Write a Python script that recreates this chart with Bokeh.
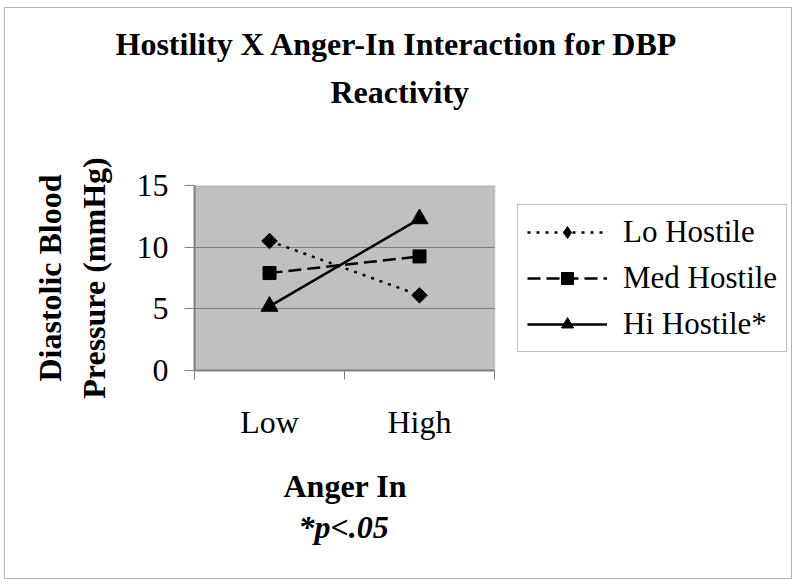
import numpy as np
from bokeh.plotting import figure
from bokeh.models import (Range1d, FixedTicker, Legend, LegendItem, Title, BoxAnnotation)
from bokeh.embed import file_html
from bokeh.resources import INLINE

# ---- data ----
categories = ["Low", "High"]
series_names = ["Lo Hostile", "Med Hostile", "Hi Hostile*"]
lo_hostile = [10.5, 6.1]
med_hostile = [7.9, 9.25]
hi_hostile = [5.2, 12.3]
y_ticks = [0, 5, 10, 15]

title_lines = ["Hostility X Anger-In Interaction for DBP", "Reactivity"]
x_title = "Anger In"
note = "*p<.05"
y_title = "Diastolic Blood\nPressure (mmHg)"

SERIF = "Liberation Serif"
GRAY = "#808080"

# layout (pixels, canvas coordinates)
W, H = 788, 572
LEFT, TOP, BOTTOM = 189, 177, 362
PLOT_W = 300                     # width of the grey plot area
n = len(categories)
x_end = n * (W - LEFT) / PLOT_W  # frame extends to the right to hold the legend

p = figure(width=W, height=H, output_backend="svg", toolbar_location=None,
           x_range=Range1d(0, x_end), y_range=Range1d(0, max(y_ticks)),
           min_border_left=LEFT, min_border_right=0, min_border_top=TOP,
           min_border_bottom=H - BOTTOM, title=None)
p.styles = {"border": "1px solid #B4B4B4", "margin-left": "4px", "margin-top": "7px"}
p.background_fill_color = "white"
p.border_fill_color = "white"
p.outline_line_color = None

# grey plot area
area = BoxAnnotation(left=0, right=n, bottom=0, top=max(y_ticks), level="image",
                     fill_color="#C0C0C0", fill_alpha=1,
                     line_color=GRAY, line_width=2)
p.add_layout(area)

xs = [i + 0.5 for i in range(n)]

# axes
xa = p.xaxis[0]
xa.bounds = (0, n)
xa.ticker = FixedTicker(ticks=xs, minor_ticks=list(range(n + 1)))
xa.major_label_overrides = {x: c for x, c in zip(xs, categories)}
xa.major_tick_out = 0
xa.major_tick_in = 0
xa.minor_tick_out = 9
xa.minor_tick_in = 0
xa.minor_tick_line_color = GRAY
xa.axis_line_color = GRAY
xa.axis_line_width = 2
xa.major_label_text_font = SERIF
xa.major_label_text_font_size = "32px"
xa.major_label_text_color = "black"
xa.major_label_standoff = 24

ya = p.yaxis[0]
ya.bounds = (0, max(y_ticks))
ya.ticker = FixedTicker(ticks=y_ticks)
ya.minor_tick_line_color = None
ya.major_tick_out = 10
ya.major_tick_in = 0
ya.major_tick_line_color = GRAY
ya.axis_line_color = GRAY
ya.axis_line_width = 2
ya.major_label_text_font = SERIF
ya.major_label_text_font_size = "32px"
ya.major_label_text_color = "black"
ya.major_label_standoff = 16
ya.axis_label = y_title
ya.axis_label_text_font = SERIF
ya.axis_label_text_font_style = "bold"
ya.axis_label_text_font_size = "32px"
ya.axis_label_text_color = "black"
ya.axis_label_standoff = 22

p.xgrid.grid_line_color = None
p.ygrid.grid_line_color = GRAY
p.ygrid.grid_line_width = 1
p.ygrid.ticker = FixedTicker(ticks=y_ticks[1:-1])
p.ygrid.cross_bounds = (0, n)
p.ygrid.level = "underlay"

# series
styles = [
    (lo_hostile, "3 6", "square", 11, np.pi / 4),
    (med_hostile, "13 6", "square", 13, 0),
    (hi_hostile, "solid", "triangle", 17, 0),
]
items = []
for name, (vals, dash, marker, size, ang) in zip(series_names, styles):
    r1 = p.line(xs, vals, line_color="black", line_width=2.5, line_dash=dash)
    r2 = p.scatter(xs, vals, marker=marker, size=size, angle=ang,
                   fill_color="black", line_color="black")
    if ang:
        # narrow diamond hidden inside the rotated square, used as legend glyph
        r3 = p.scatter(xs, vals, marker="diamond", size=14,
                       fill_color="black", line_color="black")
        items.append(LegendItem(label=name, renderers=[r1, r3]))
    else:
        items.append(LegendItem(label=name, renderers=[r1, r2]))

legend = Legend(items=items, location=(323, 18), orientation="vertical")
legend.label_text_font = SERIF
legend.label_text_font_size = "31px"
legend.label_text_color = "black"
legend.glyph_width = 80
legend.glyph_height = 30
legend.label_standoff = 16
legend.spacing = 10
legend.padding = 9
legend.margin = 0
legend.border_line_color = GRAY
legend.border_line_width = 1
legend.background_fill_color = "white"
legend.background_fill_alpha = 1
p.add_layout(legend, "center")

def title(text, offset, standoff, style="bold", size="32px"):
    return Title(text=text, align="left", offset=offset, text_font=SERIF,
                 text_font_style=style, text_font_size=size,
                 text_color="black", standoff=standoff)

# above: stacked outward from the plot area
p.add_layout(title(" ", 0, 68, size="1px"), "above")
p.add_layout(title(title_lines[1], 136, 10), "above")
p.add_layout(title(title_lines[0], -79, 10), "above")

# below the x axis
p.add_layout(title(" ", 0, 19, size="1px"), "below")
p.add_layout(title(x_title, 89, 3), "below")
p.add_layout(title(note, 104, 3, style="bold italic"), "below")

open("out.html", "w").write(file_html(p, INLINE))
